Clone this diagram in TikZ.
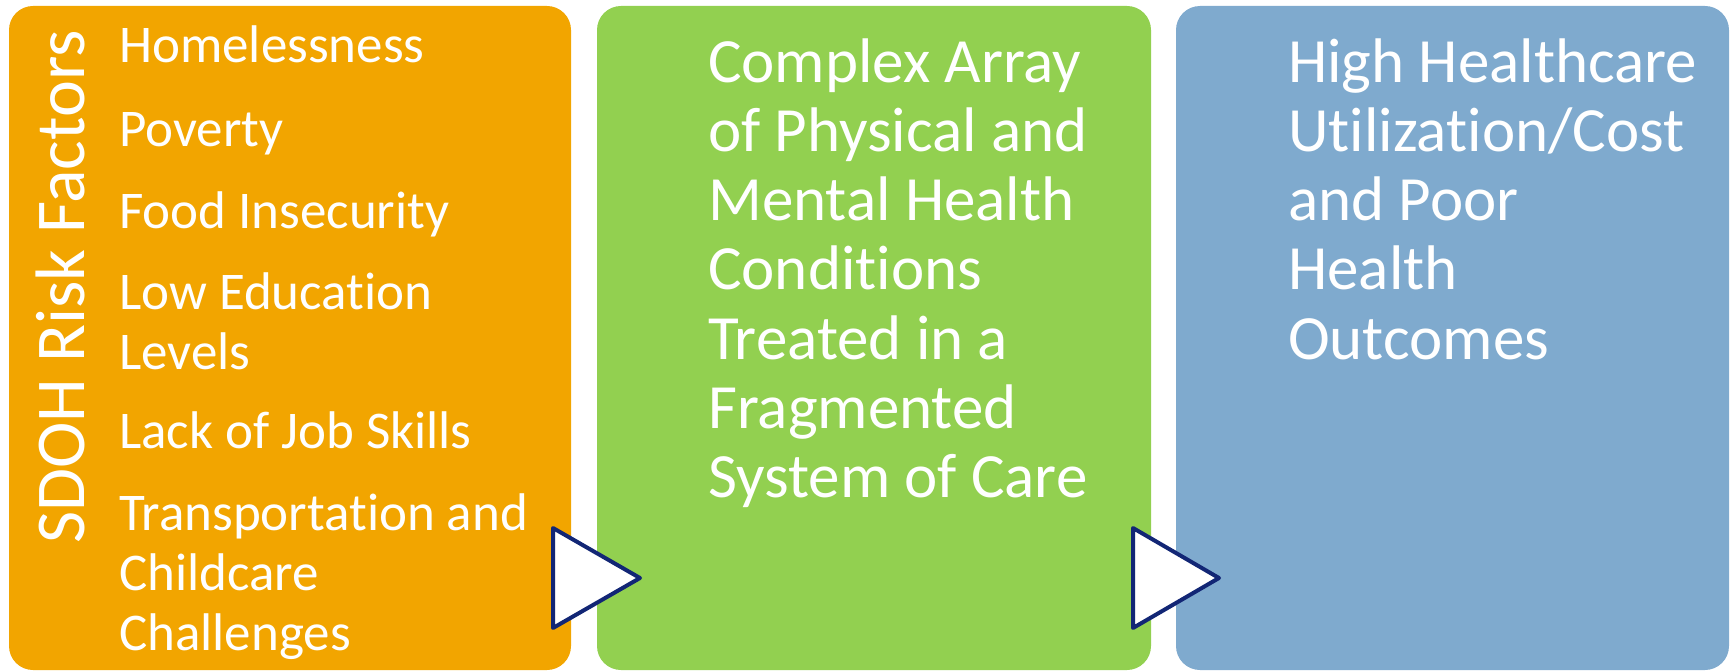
\documentclass[tikz,border=0pt]{standalone}
\usepackage{fontspec}
\setmainfont{Carlito}[Ligatures=NoCommon]
\definecolor{riskorange}{RGB}{242,165,0}
\definecolor{caregreen}{RGB}{146,208,80}
\definecolor{costblue}{RGB}{127,170,206}
\definecolor{tipnavy}{RGB}{18,38,117}
\begin{document}
\begin{tikzpicture}[x=1pt, y=-1pt,
    box/.style={rounded corners=24pt},
    item/.style={anchor=base west, inner sep=0pt, text=white, font=\fontsize{53}{60}\selectfont},
    bigline/.style={anchor=base west, inner sep=0pt, text=white, font=\fontsize{63}{69}\selectfont},
    flowtip/.style={fill=white, draw=tipnavy, line width=4pt, line join=round}]

        \useasboundingbox (0,0) rectangle (1733,671);

        % Define the corners of the three boxes
        \coordinate (O1) at (9,6);
        \coordinate (O2) at (571,670);
        \coordinate (G1) at (597,6);
        \coordinate (G2) at (1151,670);
        \coordinate (B1) at (1176,6);
        \coordinate (B2) at (1729,670);

        % Corners of the two triangles
        \coordinate (T1a) at (553,528);
        \coordinate (T1b) at (553,628);
        \coordinate (T1c) at (640,578);
        \coordinate (T2a) at (1133,528);
        \coordinate (T2b) at (1133,628);
        \coordinate (T2c) at (1219,578);

        % Draw the boxes
        \fill[box, riskorange] (O1) rectangle (O2);
        \fill[box, caregreen] (G1) rectangle (G2);
        \fill[box, costblue] (B1) rectangle (B2);

        % Draw the triangles between boxes
        \draw[flowtip] (T1a) -- (T1c) -- (T1b) -- cycle;
        \draw[flowtip] (T2a) -- (T2c) -- (T2b) -- cycle;

        % Title of the first box
        \node[rotate=90, anchor=base, inner sep=0pt, text=white, font=\fontsize{70}{72}\selectfont] (sdoh) at (84,287) {SDOH Risk Factors};

        % Risk factors
        \node[item] (homeless) at (119,63) {Homelessness};
        \node[item] (poverty) at (119,147) {Poverty};
        \node[item] (food) at (119,229) {Food Insecurity};
        \node[item] (educA) at (119,309) {Low Education};
        \node[item] (educB) at (119,369) {Levels};
        \node[item] (jobs) at (119,448) {Lack of Job Skills};
        \node[item] (transA) at (119,530) {Transportation and};
        \node[item] (transB) at (119,590) {Childcare};
        \node[item] (transC) at (119,650) {Challenges};

        % Conditions
        \node[bigline] (condA) at (708,83) {Complex Array};
        \node[bigline] (condB) at (708,152) {of Physical and};
        \node[bigline] (condC) at (708,221) {Mental Health};
        \node[bigline] (condD) at (708,290) {Conditions};
        \node[bigline] (condE) at (708,359) {Treated in a};
        \node[bigline] (condF) at (708,428) {Fragmented};
        \node[bigline] (condG) at (708,497) {System of Care};

        % Outcomes
        \node[bigline] (costA) at (1288,83) {High Healthcare};
        \node[bigline] (costB) at (1288,152) {Utilization/Cost};
        \node[bigline] (costC) at (1288,221) {and Poor};
        \node[bigline] (costD) at (1288,290) {Health};
        \node[bigline] (costE) at (1288,359) {Outcomes};

    \end{tikzpicture}
\end{document}
